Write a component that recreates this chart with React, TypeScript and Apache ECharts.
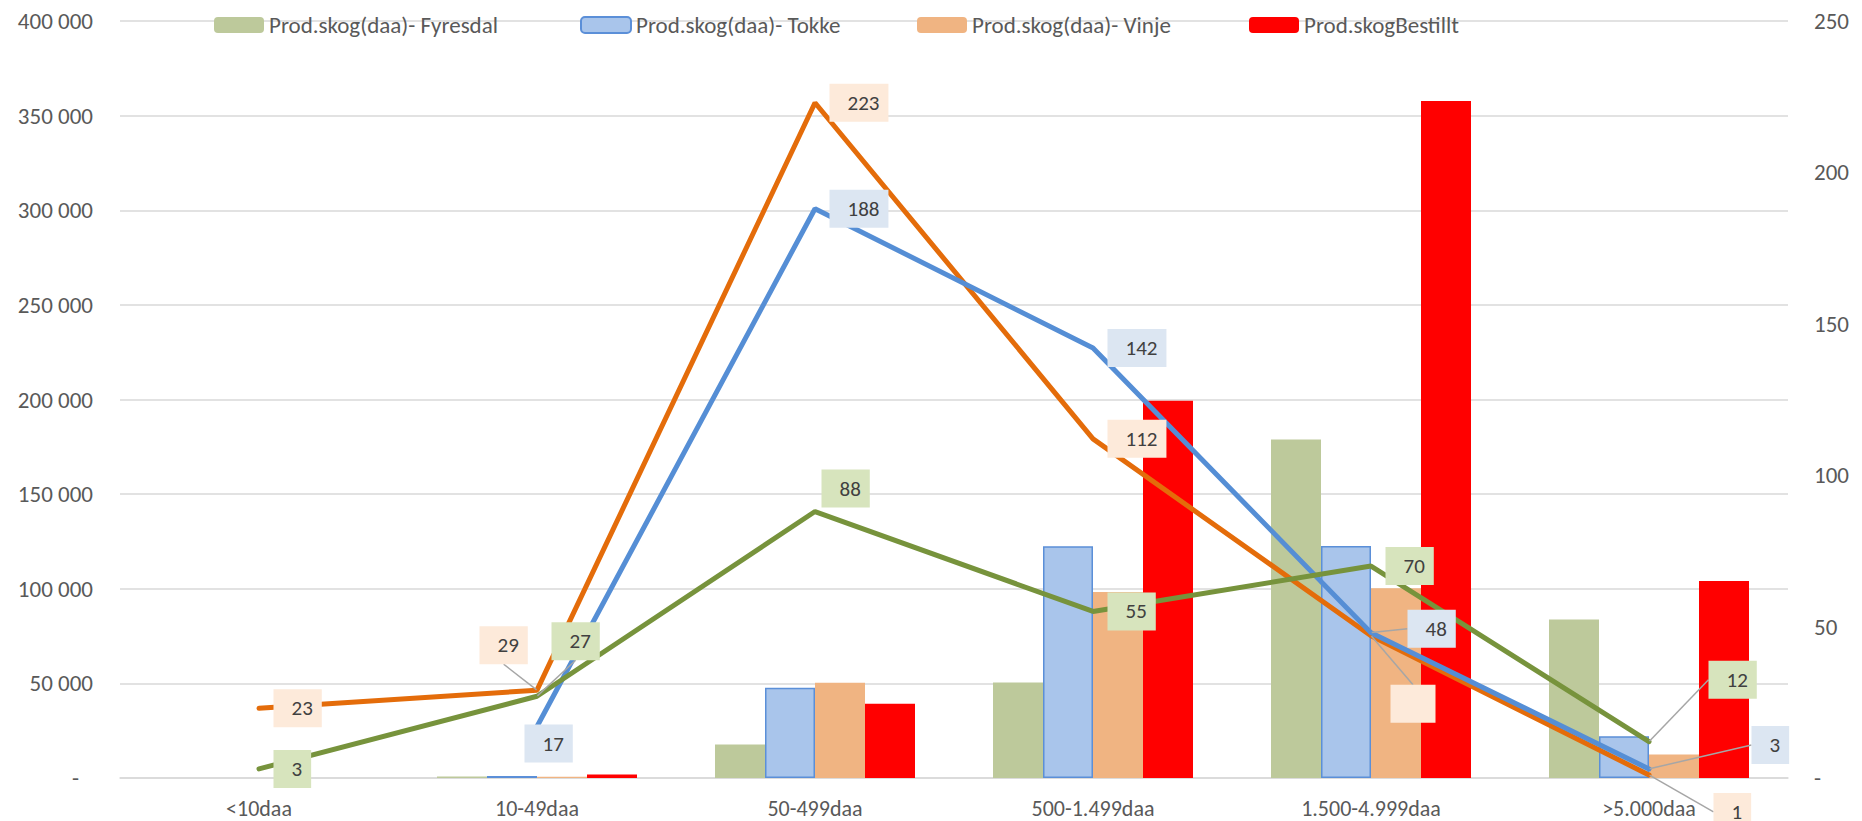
import React, { useEffect, useRef } from "react";
import * as echarts from "echarts";

const categories = ["<10daa", "10-49daa", "50-499daa", "500-1.499daa", "1.500-4.999daa", ">5.000daa"];

// Bars: productive forest area (daa), left axis
const fyresdalArea = [null, 800, 17700, 50500, 178800, 83800];
const tokkeArea = [null, 1000, 47700, 122500, 122600, 22100];
const vinjeArea = [null, 700, 50300, 98300, 100300, 12400];
const bestilltArea = [null, 1800, 39200, 199400, 357700, 104100];

// Lines: counts, right axis
const fyresdalCount = [3, 27, 88, 55, 70, 12];
const tokkeCount = [null, 17, 188, 142, 48, 3];
const vinjeCount = [23, 29, 223, 112, 47, 1];

const leftTicks = { min: 0, max: 400000, interval: 50000 };
const rightTicks = { min: 0, max: 250, interval: 50 };

const FONT = "Calibri, Carlito, Lato, sans-serif";

const fmtThousands = (v: number) => String(v).replace(/\B(?=(\d{3})+(?!\d))/g, " ");

export default function App() {
  const ref = useRef<HTMLDivElement>(null);
  useEffect(() => {
    if (!ref.current) return;
    const chart = echarts.init(ref.current, null, { renderer: "svg" });

    const barNames = [
      "Prod.skog(daa)- Fyresdal",
      "Prod.skog(daa)- Tokke",
      "Prod.skog(daa)- Vinje",
      "Prod.skogBestillt",
    ];
    const legendLefts = [214, 580, 917, 1249];

    const labelBase = (bg: string) => ({
      show: true,
      position: "right",
      distance: 14,
      formatter: "{c}",
      color: "#404040",
      fontSize: 21,
      lineHeight: 22,
      fontFamily: FONT,
      backgroundColor: bg,
      padding: [8, 9, 8, 18],
    });

    const mkLayout = (offsets: number[][]) => (p: any) => {
      const o = offsets[p.dataIndex] || [0, 0];
      return { dx: o[0], dy: o[1] };
    };

    const withLeaders = (vals: (number | null)[], leaders: number[], extra?: Record<number, any>) =>
      vals.map((v, i) => {
        const item: any = { value: v };
        if (leaders.indexOf(i) >= 0) item.labelLine = { show: true };
        if (extra && extra[i]) Object.assign(item, extra[i]);
        return item;
      });

    const lineSeries = (name: string, vals: any[], color: string, bg: string, offsets: number[][]) => ({
      name,
      type: "line",
      yAxisIndex: 1,
      data: vals,
      symbol: "circle",
      symbolSize: 1,
      showSymbol: true,
      connectNulls: false,
      lineStyle: { color, width: 5, cap: "round" },
      itemStyle: { color },
      label: labelBase(bg),
      labelLine: { show: false, lineStyle: { color: "#A6A6A6", width: 1.5 } },
      labelLayout: mkLayout(offsets),
      z: 5,
    });

    const option: any = {
      animation: false,
      textStyle: { fontFamily: FONT },
      legend: barNames.map((n, i) => ({
        data: [n],
        left: legendLefts[i],
        top: 13,
        padding: 0,
        itemWidth: 50,
        itemHeight: 16,
        itemGap: 0,
        textStyle: { color: "#595959", fontSize: 23, fontFamily: FONT, lineHeight: 24 },
        selectedMode: false,
      })),
      grid: { left: 120, right: 74, top: 21, bottom: 43 },
      xAxis: {
        type: "category",
        data: categories,
        axisTick: { show: false },
        axisLine: { lineStyle: { color: "#D9D9D9", width: 1.5 } },
        axisLabel: { color: "#595959", fontSize: 22, lineHeight: 22, fontFamily: FONT, margin: 19 },
      },
      yAxis: [
        {
          type: "value",
          ...leftTicks,
          axisLine: { show: false },
          axisTick: { show: false },
          splitLine: { lineStyle: { color: "#D9D9D9", width: 1.5 } },
          axisLabel: {
            color: "#595959",
            fontSize: 23,
            fontFamily: FONT,
            margin: 27,
            formatter: (v: number) => (v === 0 ? "{z|-}" : fmtThousands(v)),
            rich: { z: { padding: [0, 14, 0, 0], color: "#595959", fontSize: 23, fontFamily: FONT } },
          },
        },
        {
          type: "value",
          ...rightTicks,
          position: "right",
          axisLine: { show: false },
          axisTick: { show: false },
          splitLine: { show: false },
          axisLabel: {
            color: "#595959",
            fontSize: 23,
            fontFamily: FONT,
            margin: 26,
            formatter: (v: number) => (v === 0 ? "-" : String(v)),
          },
        },
      ],
      series: [
        {
          name: barNames[0],
          type: "bar",
          data: fyresdalArea,
          barWidth: 50,
          barGap: "0%",
          itemStyle: { color: "#BDC99B" },
        },
        {
          name: barNames[1],
          type: "bar",
          data: tokkeArea,
          barWidth: 50,
          barGap: "0%",
          itemStyle: { color: "#A9C5EB", borderColor: "#5B8FD8", borderWidth: 1.5 },
        },
        {
          name: barNames[2],
          type: "bar",
          data: vinjeArea,
          barWidth: 50,
          barGap: "0%",
          itemStyle: { color: "#F0B482" },
        },
        {
          name: barNames[3],
          type: "bar",
          data: bestilltArea,
          barWidth: 50,
          barGap: "0%",
          itemStyle: { color: "#FF0000" },
        },
        lineSeries(
          "Antall - Vinje",
          withLeaders(vinjeCount, [1, 4, 5], { 4: { label: { formatter: " ", width: 18 } } }),
          "#E46C0A",
          "#FDEADA",
          [[0, 0], [-72, -45], [0, 0], [0, 0], [5, 68], [50, 37]]
        ),
        lineSeries(
          "Antall - Tokke",
          withLeaders(tokkeCount, [4, 5]),
          "#558ED5",
          "#DCE6F2",
          [[0, 0], [-27, 17], [0, 0], [0, 0], [22, -4], [88, -24]]
        ),
        lineSeries(
          "Antall - Fyresdal",
          withLeaders(fyresdalCount, [1, 5]),
          "#77933C",
          "#D7E4BD",
          [[0, 0], [0, -55], [-8, -23], [0, 0], [0, 0], [45, -62]]
        ),
      ],
    };
    chart.setOption(option);
    return () => chart.dispose();
  }, []);
  return (
    <div
      ref={ref}
      style={{ position: "fixed", left: 0, top: 0, width: 1862, height: 821, background: "#fff" }}
    />
  );
}
